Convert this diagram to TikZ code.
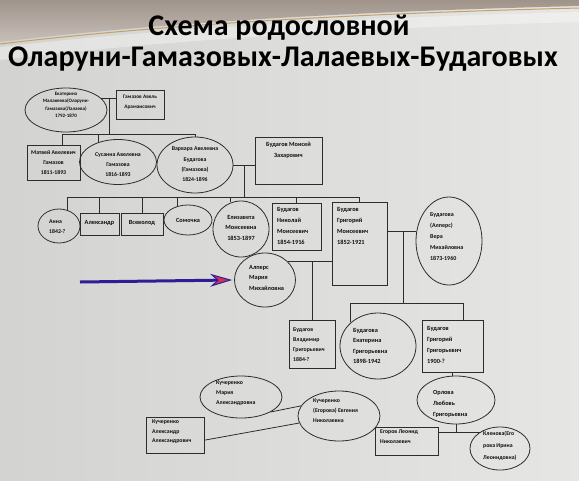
\documentclass[tikz,border=0pt]{standalone}
\usepackage{fontspec}
\setmainfont{Carlito}
\usetikzlibrary{shapes.geometric,arrows.meta}
\definecolor{linec}{RGB}{45,45,45}
\definecolor{textc}{RGB}{15,15,15}
\definecolor{bgc}{RGB}{229,229,227}
\definecolor{topc}{RGB}{160,148,138}
\definecolor{goldc}{RGB}{196,160,100}
\definecolor{arrowc}{RGB}{45,30,150}
\definecolor{tipc}{RGB}{215,45,90}
\tikzset{
  pbox/.style={draw=linec, line width=0.8pt, rectangle, inner sep=0pt},
  pell/.style={draw=linec, line width=0.8pt, ellipse, inner sep=0pt},
  lt/.style={font=\bfseries\fontsize{6.3}{10.5}\selectfont, align=left, inner sep=0pt, anchor=north west, text=textc},
  ct/.style={font=\bfseries\fontsize{6.3}{10.5}\selectfont, align=center, inner sep=0pt, anchor=north, text=textc},
  link/.style={draw=linec, line width=0.8pt},
  ttl/.style={font=\bfseries\fontsize{30}{30}\selectfont, text=black, inner sep=0pt, anchor=base},
  bigarrow/.style={draw=arrowc, line width=3pt, -{Stealth[length=22pt,width=13pt,line width=1pt,fill=tipc]}},
}
\begin{document}
\begin{tikzpicture}[x=1pt,y=-1pt]
\useasboundingbox (0,0) rectangle (579,480);
% background
\shade[left color=bgc!92!black, right color=bgc!97!white] (0,0) rectangle (579,480);
\shade[top color=topc, bottom color=topc!60!white] (0,0) -- (579,0) -- (579,6) .. controls (420,10) and (200,18) .. (0,42) -- cycle;
\draw[goldc, line width=1pt] (0,44) .. controls (200,20) and (420,12) .. (579,8);
\fill[white, opacity=0.35] (0,47) .. controls (200,24) and (420,16) .. (579,12) -- (579,22) .. controls (420,26) and (200,36) .. (0,60) -- cycle;
% title
\node[ttl] (t1) at (279,35) {Схема родословной};
\node[ttl] (t2) at (283,66) {Оларуни-Гамазовых-Лалаевых-Будаговых};
% shapes
\node[pell, minimum width=82, minimum height=44] (eka) at (66,110) {};
\node[pbox, minimum width=48, minimum height=29] (avel) at (140,104.5) {};
\node[pbox, minimum width=53, minimum height=35] (matvey) at (53.5,162.5) {};
\node[pell, minimum width=77, minimum height=45] (susanna) at (118,162) {};
\node[pell, minimum width=76, minimum height=56] (varvara) at (195,165) {};
\node[pbox, minimum width=67, minimum height=47] (moisey) at (288.5,160.5) {};
\node[pell, minimum width=42, minimum height=34] (anna) at (59,226) {};
\node[pbox, minimum width=39, minimum height=22] (alexandr) at (99.5,224) {};
\node[pbox, minimum width=42, minimum height=22] (vsevolod) at (142,224) {};
\node[pell, minimum width=48, minimum height=30] (somochka) at (188,220) {};
\node[pell, minimum width=56, minimum height=56] (eliz) at (241,229) {};
\node[pbox, minimum width=49, minimum height=47] (nikolay) at (296.5,226.5) {};
\node[pbox, minimum width=55, minimum height=83] (grigm) at (359.5,243.5) {};
\node[pell, minimum width=66, minimum height=88] (vera) at (449,241) {};
\node[pell, minimum width=61, minimum height=54] (maria) at (265,280) {};
\node[pbox, minimum width=46, minimum height=48] (vladimir) at (312,344) {};
\node[pell, minimum width=76, minimum height=66] (ekatg) at (378,346) {};
\node[pbox, minimum width=61, minimum height=52] (grigg) at (452.5,346) {};
\node[pell, minimum width=78, minimum height=48] (orlova) at (456,400) {};
\node[pbox, minimum width=63, minimum height=28] (egorov) at (406.5,441) {};
\node[pell, minimum width=60, minimum height=43] (klenova) at (500,448.5) {};
\node[pell, minimum width=82, minimum height=50] (evg) at (339,416) {};
\node[pell, minimum width=82, minimum height=42] (mariak) at (241,397) {};
\node[pbox, minimum width=58, minimum height=36] (alexk) at (175,435) {};
% texts
\node[ct, font=\bfseries\fontsize{5}{7.3}\selectfont] (eka-t) at (66,92) {Екатерина\\Малакеева(Оларуни-\\Гамазова(Лалаева)\\1792-1870};
\node[ct, font=\bfseries\fontsize{5.3}{10}\selectfont] (avel-t) at (140,95) {Гамазов Авель\\Арамаисович};
\node[ct, font=\bfseries\fontsize{5.8}{10}\selectfont] (matvey-t) at (53.5,150) {Матвей Авелевич\\Гамазов\\1811-1893};
\node[ct, font=\bfseries\fontsize{5.8}{10}\selectfont] (susanna-t) at (118,152) {Сусанна Авелевна\\Гамазова\\1816-1893};
\node[ct, font=\bfseries\fontsize{5.8}{10.3}\selectfont] (varvara-t) at (195,147) {Варвара Авелевна\\Будагова\\(Гамазова)\\1824-1896};
\node[ct] (moisey-t) at (288.5,142) {Будагов Моисей\\Захарович};
\node[lt, font=\bfseries\fontsize{5.8}{9.5}\selectfont] (anna-t) at (49,220) {Анна\\1842-?};
\node[ct, anchor=center] (alexandr-t) at (99.5,223) {Александр};
\node[ct, anchor=center] (vsevolod-t) at (142,223) {Всеволод};
\node[ct, anchor=center] (somochka-t) at (188,220) {Сомочка};
\node[ct] (eliz-t) at (241,215) {Елизавета\\Моисеевна\\1853-1897};
\node[lt, font=\bfseries\fontsize{6.3}{11}\selectfont] (nikolay-t) at (277,207) {Будагов\\Николай\\Моисеевич\\1854-1916};
\node[lt, font=\bfseries\fontsize{6.3}{11}\selectfont] (grigm-t) at (337,207) {Будагов\\Григорий\\Моисеевич\\1852-1921};
\node[lt, font=\bfseries\fontsize{6}{11}\selectfont] (vera-t) at (430,212) {Будагова\\(Алперс)\\Вера\\Михайловна\\1873-1960};
\node[lt] (maria-t) at (249,265) {Алперс\\Мария\\Михайловна};
\node[lt, font=\bfseries\fontsize{5.8}{10}\selectfont] (vladimir-t) at (293,328) {Будагов\\Владимир\\Григорьевич\\1884-?};
\node[lt] (ekatg-t) at (353,328) {Будагова\\Екатерина\\Григорьевна\\1898-1942};
\node[lt, font=\bfseries\fontsize{6.3}{11}\selectfont] (grigg-t) at (427,326) {Будагов\\Григорий\\Григорьевич\\1900-?};
\node[lt, font=\bfseries\fontsize{6.3}{11}\selectfont] (orlova-t) at (433,390) {Орлова\\Любовь\\Григорьевна};
\node[lt, font=\bfseries\fontsize{5.8}{10}\selectfont] (egorov-t) at (380,430) {Егоров Леонид\\Николаевич};
\node[lt, font=\bfseries\fontsize{5.8}{12}\selectfont] (klenova-t) at (483,431) {Кленова(Его\\рова Ирина\\Леонидовна)};
\node[lt, font=\bfseries\fontsize{5.8}{10}\selectfont] (evg-t) at (313,399) {Кучеренко\\(Егорова) Евгения\\Николаевна};
\node[lt, font=\bfseries\fontsize{5.8}{10}\selectfont] (mariak-t) at (216,381) {Кучеренко\\Мария\\Александровна};
\node[lt, font=\bfseries\fontsize{5.8}{9.5}\selectfont] (alexk-t) at (152,420) {Кучеренко\\Александр\\Александрович};
% junctions
\coordinate (b1) at (109,134);
\coordinate (b2) at (244,197);
\coordinate (b4) at (403,303);
% connectors: generation 1
\draw[link] (eka.19) -- (avel.west |- eka.19);
\draw[link] (eka.19 -| b1) -- (b1);
\draw[link] ([xshift=8.5]matvey.north |- b1) -- (varvara.north |- b1);
\draw[link] ([xshift=8.5]matvey.north |- b1) -- ([xshift=8.5]matvey.north);
\draw[link] (susanna.134 |- b1) -- (susanna.134);
\draw[link] (varvara.north |- b1) -- (varvara.north);
% generation 2
\draw[link] (varvara.east) -- (moisey.west |- varvara.east);
\draw[link] (varvara.east -| b2) -- (b2);
\draw[link] (anna.63 |- b2) -- (grigm.north |- b2);
\draw[link] (anna.63 |- b2) -- (anna.63);
\draw[link] (alexandr.north |- b2) -- (alexandr.north);
\draw[link] (vsevolod.north |- b2) -- (vsevolod.north);
\draw[link] (somochka.126 |- b2) -- (somochka.126);
\draw[link] (eliz.111 |- b2) -- (eliz.111);
\draw[link] (nikolay.north |- b2) -- (nikolay.north);
\draw[link] (grigm.north |- b2) -- (grigm.north);
% generation 3
\draw[link] (maria.38) -- (grigm.west |- maria.38);
\draw[link] (maria.38 -| vladimir.north) -- (vladimir.north);
\draw[link] (grigm.east |- vera.164) -- (vera.164);
\draw[link] (vera.164 -| b4) -- (b4);
\draw[link] (ekatg.139 |- b4) -- ([xshift=10.5]grigg.north |- b4);
\draw[link] (ekatg.139 |- b4) -- (ekatg.139);
\draw[link] ([xshift=10.5]grigg.north |- b4) -- ([xshift=10.5]grigg.north);
% generation 4
\draw[link] (grigg.south) -- (grigg.south |- orlova.north);
\draw[link] (egorov.east |- klenova.141) -- (klenova.141);
\draw[link] (orlova.south) -- (orlova.south |- klenova.141);
\draw[link] (mariak.-27) -- (evg.165);
\draw[link] (alexk.-10) -- (evg.190);
% arrow
\coordinate (atail) at (80,282);
\draw[bigarrow] (atail) -- ([xshift=-2]maria.west);
\end{tikzpicture}
\end{document}
